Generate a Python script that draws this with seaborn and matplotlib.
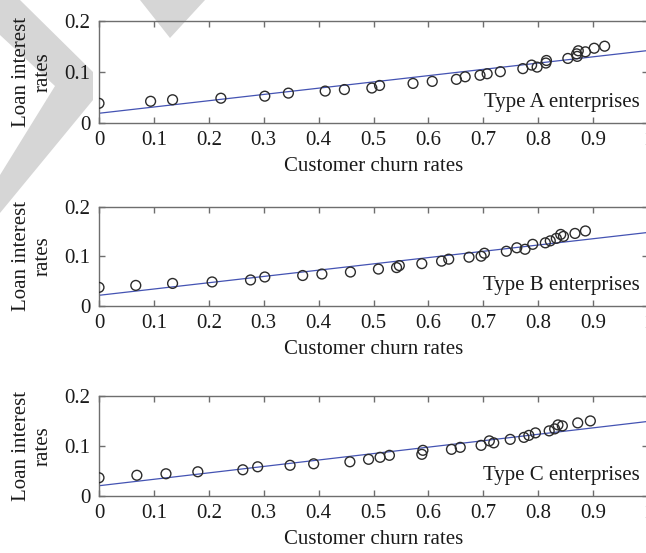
import numpy as np
import pandas as pd
import seaborn as sns
import matplotlib.pyplot as plt
from matplotlib.patches import Polygon

# Customer churn rate vs. loan interest rate, one panel per enterprise type
churn_a = [0.000, 0.094, 0.134, 0.222, 0.302, 0.345, 0.412, 0.447, 0.497, 0.511,
           0.572, 0.607, 0.651, 0.667, 0.694, 0.707, 0.731, 0.772, 0.788, 0.798,
           0.814, 0.815, 0.854, 0.871, 0.870, 0.873, 0.886, 0.902, 0.921]
rate_a = [0.038, 0.042, 0.045, 0.048, 0.052, 0.058, 0.062, 0.065, 0.068, 0.073,
          0.077, 0.081, 0.085, 0.090, 0.093, 0.096, 0.100, 0.106, 0.113, 0.109,
          0.117, 0.122, 0.126, 0.130, 0.135, 0.141, 0.139, 0.146, 0.150]

churn_b = [0.000, 0.067, 0.134, 0.206, 0.276, 0.302, 0.371, 0.406, 0.458, 0.509,
           0.542, 0.547, 0.588, 0.624, 0.637, 0.674, 0.696, 0.702, 0.742, 0.761,
           0.776, 0.790, 0.813, 0.822, 0.833, 0.841, 0.846, 0.867, 0.886]
rate_b = [0.037, 0.041, 0.045, 0.048, 0.052, 0.058, 0.061, 0.064, 0.068, 0.074,
          0.077, 0.081, 0.085, 0.090, 0.094, 0.098, 0.100, 0.106, 0.110, 0.117,
          0.114, 0.124, 0.127, 0.131, 0.136, 0.144, 0.140, 0.146, 0.151]

churn_c = [0.000, 0.069, 0.122, 0.180, 0.262, 0.289, 0.348, 0.391, 0.457, 0.491,
           0.512, 0.529, 0.588, 0.590, 0.642, 0.658, 0.696, 0.711, 0.719, 0.749,
           0.774, 0.783, 0.795, 0.820, 0.830, 0.836, 0.844, 0.872, 0.895]
rate_c = [0.036, 0.041, 0.044, 0.048, 0.052, 0.058, 0.061, 0.064, 0.068, 0.073,
          0.077, 0.081, 0.083, 0.091, 0.093, 0.097, 0.101, 0.110, 0.106, 0.113,
          0.117, 0.121, 0.126, 0.130, 0.134, 0.142, 0.140, 0.146, 0.150]

# fitted trend lines: (intercept, slope)
fit_a = (0.0185, 0.123)
fit_b = (0.0210, 0.127)
fit_c = (0.0200, 0.129)

panel_labels = ["Type A enterprises", "Type B enterprises", "Type C enterprises"]
x_ticks = [0, 0.1, 0.2, 0.3, 0.4, 0.5, 0.6, 0.7, 0.8, 0.9, 1]
x_tick_labels = ["0", "0.1", "0.2", "0.3", "0.4", "0.5", "0.6", "0.7", "0.8", "0.9", "1"]
y_ticks = [0, 0.1, 0.2]
y_tick_labels = ["0", "0.1", "0.2"]

sns.set_theme(style="white")
plt.rcParams['font.family'] = ['Liberation Serif', 'DejaVu Serif']

W, H = 646, 553
fig = plt.figure(figsize=(W / 100, H / 100), dpi=100)
fig.patch.set_facecolor("white")


def px_poly(points):
    """Grey background shape given in pixel coordinates from the top-left."""
    verts = [(x / W, 1 - y / H) for x, y in points]
    return Polygon(verts, closed=True, transform=fig.transFigure,
                   facecolor="#d6d6d6", edgecolor="none", zorder=-1)


fig.patches.append(px_poly([(140, 0), (205, 0), (170, 38)]))
fig.patches.append(px_poly([(20, 0), (93, 72), (93, 100), (0, 213), (0, 175),
                            (55, 86), (0, 35), (0, 0)]))

# axes boxes in pixel units: (top, bottom)
boxes = [(20.7, 122.7), (206.7, 305.7), (396.0, 495.7)]
left_px, right_px = 99, 648

panels = [(churn_a, rate_a, fit_a), (churn_b, rate_b, fit_b), (churn_c, rate_c, fit_c)]
spine_col = "#6e6e6e"
text_col = "#1a1a1a"
fs = 15

for (top, bot), (cx, ry, (b0, b1)), label in zip(boxes, panels, panel_labels):
    ax = fig.add_axes([left_px / W, 1 - bot / H, (right_px - left_px) / W, (bot - top) / H])
    ax.set_facecolor("none")
    df = pd.DataFrame({"churn": cx, "rate": ry})
    line_x = np.array([0.0, 1.0])
    sns.lineplot(x=line_x, y=b0 + b1 * line_x, ax=ax, color="#4453b3", linewidth=0.9, zorder=2)
    sns.scatterplot(data=df, x="churn", y="rate", ax=ax, marker="o", s=50,
                    facecolor="none", edgecolor="#2b2b2b", linewidth=1.0, zorder=3)
    ax.set_xlim(0, 1)
    ax.set_ylim(0, 0.2)
    ax.set_xticks(x_ticks)
    ax.set_xticklabels(x_tick_labels)
    ax.set_yticks(y_ticks)
    ax.set_yticklabels(y_tick_labels)
    ax.tick_params(direction="in", length=4, width=1, color=spine_col,
                   top=True, right=True, bottom=True, left=True,
                   labelsize=fs, labelcolor=text_col, pad=6)
    for sp in ax.spines.values():
        sp.set_color(spine_col)
        sp.set_linewidth(1.0)
    ax.set_xlabel("Customer churn rates", fontsize=fs, color=text_col, labelpad=5)
    ax.set_ylabel("Loan interest\nrates", fontsize=fs, color=text_col, linespacing=1.2)
    ax.yaxis.set_label_coords(-0.085, 0.5)
    ax.text(0.985, 0.04, label, fontsize=fs, color=text_col, ha="right", va="center")

fig.savefig("out.png", dpi=100, facecolor="white")
